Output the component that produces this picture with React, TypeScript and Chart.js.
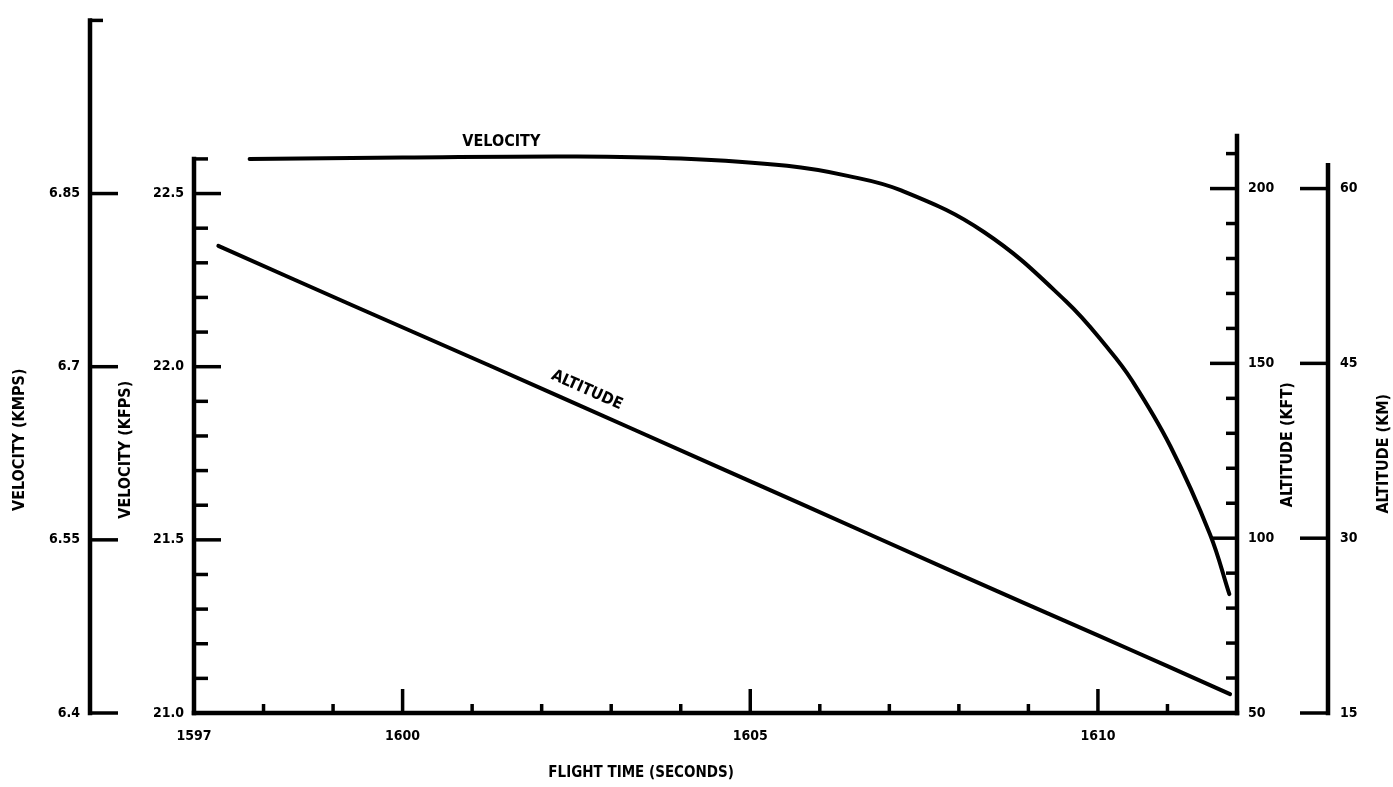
import React, { useEffect, useRef } from "react";
import { Chart, registerables } from "chart.js";

Chart.register(...registerables);

// ---- Data ----
// Velocity curve: flight time (s) vs velocity (kft/s)
const VEL_TIME = [1597.8, 1600.0, 1602.5, 1604.0, 1605.53, 1606.4, 1607.17, 1608.36, 1609.54, 1610.16, 1610.49, 1611.04, 1611.61, 1611.89];
const VEL_KFPS = [22.6, 22.604, 22.607, 22.601, 22.58, 22.551, 22.509, 22.389, 22.189, 22.049, 21.96, 21.771, 21.517, 21.343];

// Altitude curve: flight time (s) vs altitude (kft)
const ALT_TIME = [1597.35, 1599.3, 1601.25, 1603.3, 1605.7, 1607.85, 1610.0, 1611.0, 1611.9];
const ALT_KFT = [183.6, 166.4, 149.4, 131.3, 110.1, 91.0, 72.2, 63.4, 55.4];

// Axes: labelled ticks
const X_TICKS = [1597, 1600, 1605, 1610];
const X_LABELS = ["1597", "1600", "1605", "1610"];
const X_MINOR = [1598, 1599, 1601, 1602, 1603, 1604, 1606, 1607, 1608, 1609, 1611];

const KFPS_TICKS = [21.0, 21.5, 22.0, 22.5];
const KFPS_LABELS = ["21.0", "21.5", "22.0", "22.5"];
const KFPS_MINOR = [21.1, 21.2, 21.3, 21.4, 21.6, 21.7, 21.8, 21.9, 22.1, 22.2, 22.3, 22.4, 22.6];

const KMPS_TICKS = [6.4, 6.55, 6.7, 6.85];
const KMPS_LABELS = ["6.4", "6.55", "6.7", "6.85"];

const KFT_TICKS = [50, 100, 150, 200];
const KFT_LABELS = ["50", "100", "150", "200"];
const KFT_MINOR = [60, 70, 80, 90, 110, 120, 130, 140, 160, 170, 180, 190, 210];

const KM_TICKS = [15, 30, 45, 60];
const KM_LABELS = ["15", "30", "45", "60"];

// Axis extents (drawn length of each axis line)
const X_RANGE = [1597, 1612];
const KFPS_RANGE = [21.0, 23.0];
const KFPS_TOP = 22.6;
const KMPS_RANGE = [6.4, 7.0];
const KMPS_TOP = 7.0;
const KFT_RANGE = [50, 248.1];
const KFT_TOP = 215;
const KM_RANGE = [15, 74.43];
const KM_TOP = 62;

// Text
const TITLE_X = "FLIGHT TIME (SECONDS)";
const TITLE_KMPS = "VELOCITY (KMPS)";
const TITLE_KFPS = "VELOCITY (KFPS)";
const TITLE_KFT = "ALTITUDE (KFT)";
const TITLE_KM = "ALTITUDE (KM)";
const LABEL_VEL = "VELOCITY";
const LABEL_ALT = "ALTITUDE";
// label anchors in data units
const LABEL_VEL_AT = [1601.42, 22.649];
const LABEL_ALT_AT = [1602.65, 142.3];

const FONT = '"DejaVu Sans Condensed", "DejaVu Sans", "Liberation Sans", sans-serif';

const scanAxes = {
  id: "scanAxes",
  afterDraw(chart: any) {
    const { ctx, chartArea: a, scales } = chart;
    const { x, kfps, kmps, kft, km } = scales;
    ctx.save();
    ctx.strokeStyle = "#000";
    ctx.fillStyle = "#000";
    const seg = (x1: number, y1: number, x2: number, y2: number, w: number, cap = "butt") => {
      ctx.lineWidth = w;
      ctx.lineCap = cap;
      ctx.beginPath();
      ctx.moveTo(x1, y1);
      ctx.lineTo(x2, y2);
      ctx.stroke();
    };
    const AX = 4.5;
    const TK = 3.5;

    // KMPS axis (outer left), ticks point right
    const xm = kmps.right;
    const ymTop = kmps.getPixelForValue(KMPS_TOP);
    seg(xm, ymTop, xm, a.bottom, AX, "square");
    seg(xm, ymTop, xm + 13, ymTop, TK);
    KMPS_TICKS.forEach((v) => {
      const py = kmps.getPixelForValue(v);
      seg(xm, py, xm + 28, py, TK);
    });

    // KFPS axis (inner left)
    const xf = kfps.right;
    const yfTop = kfps.getPixelForValue(KFPS_TOP);
    seg(xf, yfTop, xf, a.bottom, AX, "square");
    KFPS_TICKS.forEach((v) => {
      if (v === KFPS_RANGE[0]) return;
      const py = kfps.getPixelForValue(v);
      seg(xf, py, xf + 27, py, TK);
    });
    KFPS_MINOR.forEach((v) => {
      const py = kfps.getPixelForValue(v);
      seg(xf, py, xf + 14, py, TK);
    });

    // Time axis
    seg(a.left, a.bottom, a.right, a.bottom, AX, "square");
    X_TICKS.forEach((v) => {
      if (v === X_RANGE[0]) return;
      const px = x.getPixelForValue(v);
      seg(px, a.bottom, px, a.bottom - 24, TK);
    });
    X_MINOR.forEach((v) => {
      const px = x.getPixelForValue(v);
      seg(px, a.bottom, px, a.bottom - 9, TK);
    });

    // KFT axis (inner right), ticks point left
    const xr = kft.left;
    const yrTop = kft.getPixelForValue(KFT_TOP);
    seg(xr, yrTop, xr, a.bottom, AX, "square");
    KFT_TICKS.forEach((v) => {
      if (v === KFT_RANGE[0]) return;
      const py = kft.getPixelForValue(v);
      seg(xr, py, xr - 27, py, TK);
    });
    KFT_MINOR.forEach((v) => {
      const py = kft.getPixelForValue(v);
      seg(xr, py, xr - 11, py, TK);
    });

    // KM axis (outer right)
    const xk = km.left;
    const ykTop = km.getPixelForValue(KM_TOP);
    seg(xk, ykTop, xk, km.getPixelForValue(KM_RANGE[0]), AX, "square");
    KM_TICKS.forEach((v) => {
      const py = km.getPixelForValue(v);
      seg(xk, py, xk - 28, py, TK);
    });

    // Axis titles
    const vText = (t: string, cx: number, cy: number, size: number) => {
      ctx.save();
      ctx.translate(cx, cy);
      ctx.rotate(-Math.PI / 2);
      ctx.font = `bold ${size}px ${FONT}`;
      ctx.textAlign = "center";
      ctx.textBaseline = "middle";
      ctx.fillText(t, 0, 0);
      ctx.restore();
    };
    const midY = (a.top + a.bottom) / 2;
    vText(TITLE_KMPS, kmps.left + 20, midY + 73, 16);
    vText(TITLE_KFPS, kfps.left + 36, midY + 83, 16);
    vText(TITLE_KFT, kft.left + 51, midY + 78, 16);
    vText(TITLE_KM, km.left + 56, midY + 87, 16);

    ctx.font = `bold 15px ${FONT}`;
    ctx.textAlign = "center";
    ctx.textBaseline = "middle";
    ctx.fillText(TITLE_X, x.getPixelForValue(1603.43), a.bottom + 60);

    // In-plot curve labels
    ctx.font = `bold 16px ${FONT}`;
    ctx.fillText(LABEL_VEL, x.getPixelForValue(LABEL_VEL_AT[0]), kfps.getPixelForValue(LABEL_VEL_AT[1]));
    ctx.save();
    ctx.translate(x.getPixelForValue(LABEL_ALT_AT[0]), kft.getPixelForValue(LABEL_ALT_AT[1]));
    ctx.rotate((24 * Math.PI) / 180);
    ctx.font = `bold 16px ${FONT}`;
    ctx.fillText(LABEL_ALT, 0, 0);
    ctx.restore();

    ctx.restore();
  },
};

const tickFont = { family: FONT, size: 14, weight: "bold" as const };

function yScale(
  position: "left" | "right",
  weight: number,
  range: number[],
  ticks: number[],
  labels: string[],
  width: number,
  padding: number
) {
  return {
    type: "linear" as const,
    position,
    weight,
    min: range[0],
    max: range[1],
    grid: { display: false, drawTicks: false },
    border: { display: false },
    afterBuildTicks: (s: any) => {
      s.ticks = ticks.map((v) => ({ value: v }));
    },
    afterFit: (s: any) => {
      s.width = width;
    },
    ticks: {
      callback: (_v: any, i: number) => labels[i],
      padding,
      color: "#000",
      font: tickFont,
      autoSkip: false,
    },
  };
}

export default function App() {
  const ref = useRef<HTMLCanvasElement>(null);

  useEffect(() => {
    if (!ref.current) return;
    const chart = new Chart(ref.current, {
      type: "line",
      data: {
        datasets: [
          {
            label: LABEL_VEL,
            data: VEL_TIME.map((t, i) => ({ x: t, y: VEL_KFPS[i] })),
            xAxisID: "x",
            yAxisID: "kfps",
            borderColor: "#000",
            borderWidth: 4,
            pointRadius: 0,
            tension: 0.4,
            borderCapStyle: "round",
            borderJoinStyle: "round",
            fill: false,
          },
          {
            label: LABEL_ALT,
            data: ALT_TIME.map((t, i) => ({ x: t, y: ALT_KFT[i] })),
            xAxisID: "x",
            yAxisID: "kft",
            borderColor: "#000",
            borderWidth: 4,
            pointRadius: 0,
            tension: 0.3,
            borderCapStyle: "round",
            borderJoinStyle: "round",
            fill: false,
          },
        ],
      },
      options: {
        responsive: false,
        animation: false,
        events: [],
        layout: { padding: { top: 13, left: 0, right: 0, bottom: 0 } },
        plugins: {
          legend: { display: false },
          tooltip: { enabled: false },
          title: { display: false },
        },
        scales: {
          x: {
            type: "linear",
            position: "bottom",
            min: X_RANGE[0],
            max: X_RANGE[1],
            grid: { display: false, drawTicks: false },
            border: { display: false },
            afterBuildTicks: (s: any) => {
              s.ticks = X_TICKS.map((v) => ({ value: v }));
            },
            afterFit: (s: any) => {
              s.height = 74;
            },
            ticks: {
              callback: (_v: any, i: number) => X_LABELS[i],
              padding: 15,
              color: "#000",
              font: tickFont,
              maxRotation: 0,
              autoSkip: false,
            },
          },
          kfps: yScale("left", 0, KFPS_RANGE, KFPS_TICKS, KFPS_LABELS, 104, 10),
          kmps: yScale("left", 1, KMPS_RANGE, KMPS_TICKS, KMPS_LABELS, 90, 10),
          kft: yScale("right", 0, KFT_RANGE, KFT_TICKS, KFT_LABELS, 91, 11),
          km: yScale("right", 1, KM_RANGE, KM_TICKS, KM_LABELS, 65, 12),
        },
      } as any,
      plugins: [scanAxes],
    });
    return () => chart.destroy();
  }, []);

  return (
    <div style={{ position: "fixed", left: 0, top: 0, width: 1393, height: 787, background: "#fff" }}>
      <canvas ref={ref} width={1393} height={787} style={{ display: "block" }} />
    </div>
  );
}
